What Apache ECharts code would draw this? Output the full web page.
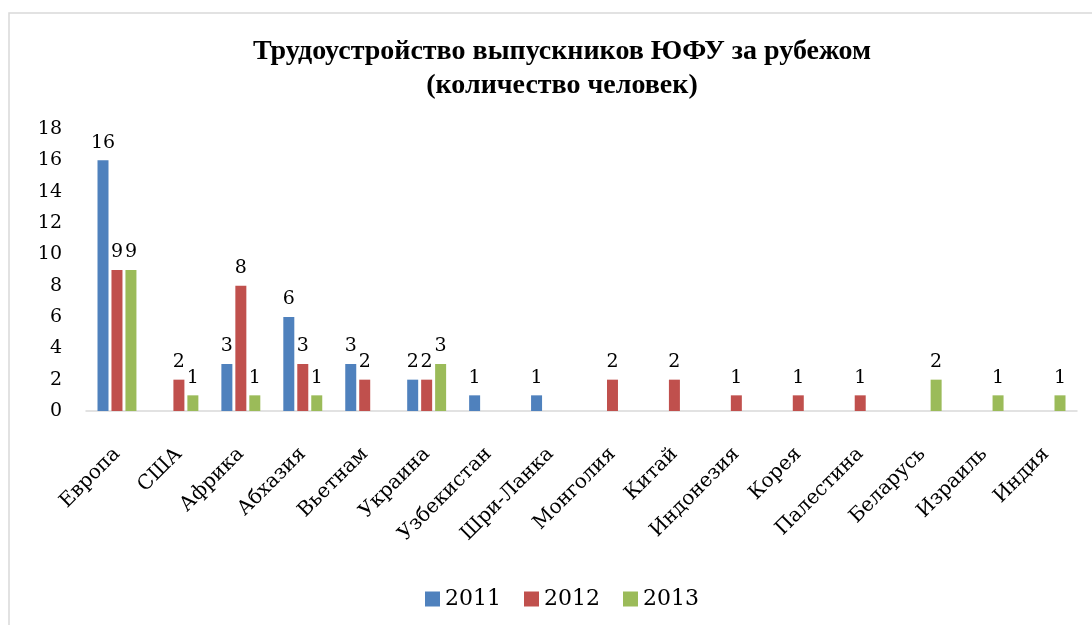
<!DOCTYPE html>
<html>
<head>
<meta charset="utf-8">
<script src="https://cdn.jsdelivr.net/npm/echarts@6/dist/echarts.min.js"></script>
<style>
    html, body { margin: 0; padding: 0; background: #fff; }
    #chart { width: 1092px; height: 625px; }
</style>
</head>
<body>
<div id="chart"></div>
<script type="text/javascript">
    // страны
    var categories = ['Европа', 'США', 'Африка', 'Абхазия', 'Вьетнам', 'Украина', 'Узбекистан', 'Шри-Ланка',
        'Монголия', 'Китай', 'Индонезия', 'Корея', 'Палестина', 'Беларусь', 'Израиль', 'Индия'];
    var years = ['2011', '2012', '2013'];
    // null = нет столбца
    var values2011 = [16, null, 3, 6, 3, 2, 1, 1, null, null, null, null, null, null, null, null];
    var values2012 = [9, 2, 8, 3, 2, 2, null, null, 2, 2, 1, 1, 1, null, null, null];
    var values2013 = [9, 1, 1, 1, null, 3, null, null, null, null, null, null, null, 2, 1, 1];
    var yTicks = [0, 18, 2]; // min, max, шаг

    var colors = ['#4F81BD', '#C0504D', '#9BBB59'];
    var serif = '"DejaVu Serif", serif';
    var titleFont = '"Liberation Serif", serif';

    function makeSeries(name, data) {
        return {
            name: name,
            type: 'bar',
            data: data,
            barWidth: 11,
            barGap: '27%',
            label: {
                show: true,
                position: 'top',
                distance: 8,
                color: '#000',
                fontFamily: serif,
                fontSize: 19
            }
        };
    }

    var myChart = echarts.init(document.getElementById('chart'));
    var option = {
        animation: false,
        color: colors,
        title: {
            text: 'Трудоустройство выпускников ЮФУ за рубежом\n(количество человек)',
            left: 557,
            top: 30,
            textAlign: 'center',
            textStyle: {
                fontFamily: titleFont,
                fontWeight: 'bold',
                fontSize: 28,
                lineHeight: 34,
                color: '#000'
            }
        },
        graphic: [{
            type: 'rect',
            shape: { x: 9, y: 13, width: 1200, height: 800 },
            style: { fill: null, stroke: '#d9d9d9', lineWidth: 1.5 },
            silent: true
        }],
        legend: {
            data: years,
            bottom: 10,
            left: 420,
            itemWidth: 15,
            itemHeight: 15,
            itemGap: 23,
            icon: 'rect',
            textStyle: { fontFamily: serif, fontSize: 22, color: '#000' }
        },
        grid: { left: 86, right: 15, top: 129, bottom: 214, containLabel: false },
        xAxis: {
            type: 'category',
            data: categories,
            axisLine: { lineStyle: { color: '#d9d9d9', width: 1.5 } },
            axisTick: { show: false },
            axisLabel: {
                rotate: 45,
                margin: 40,
                interval: 0,
                color: '#000',
                fontFamily: serif,
                fontSize: 20
            }
        },
        yAxis: {
            type: 'value',
            min: yTicks[0],
            max: yTicks[1],
            interval: yTicks[2],
            axisLine: { show: false },
            axisTick: { show: false },
            splitLine: { show: false },
            axisLabel: { color: '#000', fontFamily: serif, fontSize: 19, margin: 24 }
        },
        series: [
            makeSeries(years[0], values2011),
            makeSeries(years[1], values2012),
            makeSeries(years[2], values2013)
        ]
    };
    myChart.setOption(option, true);
</script>
</body>
</html>
